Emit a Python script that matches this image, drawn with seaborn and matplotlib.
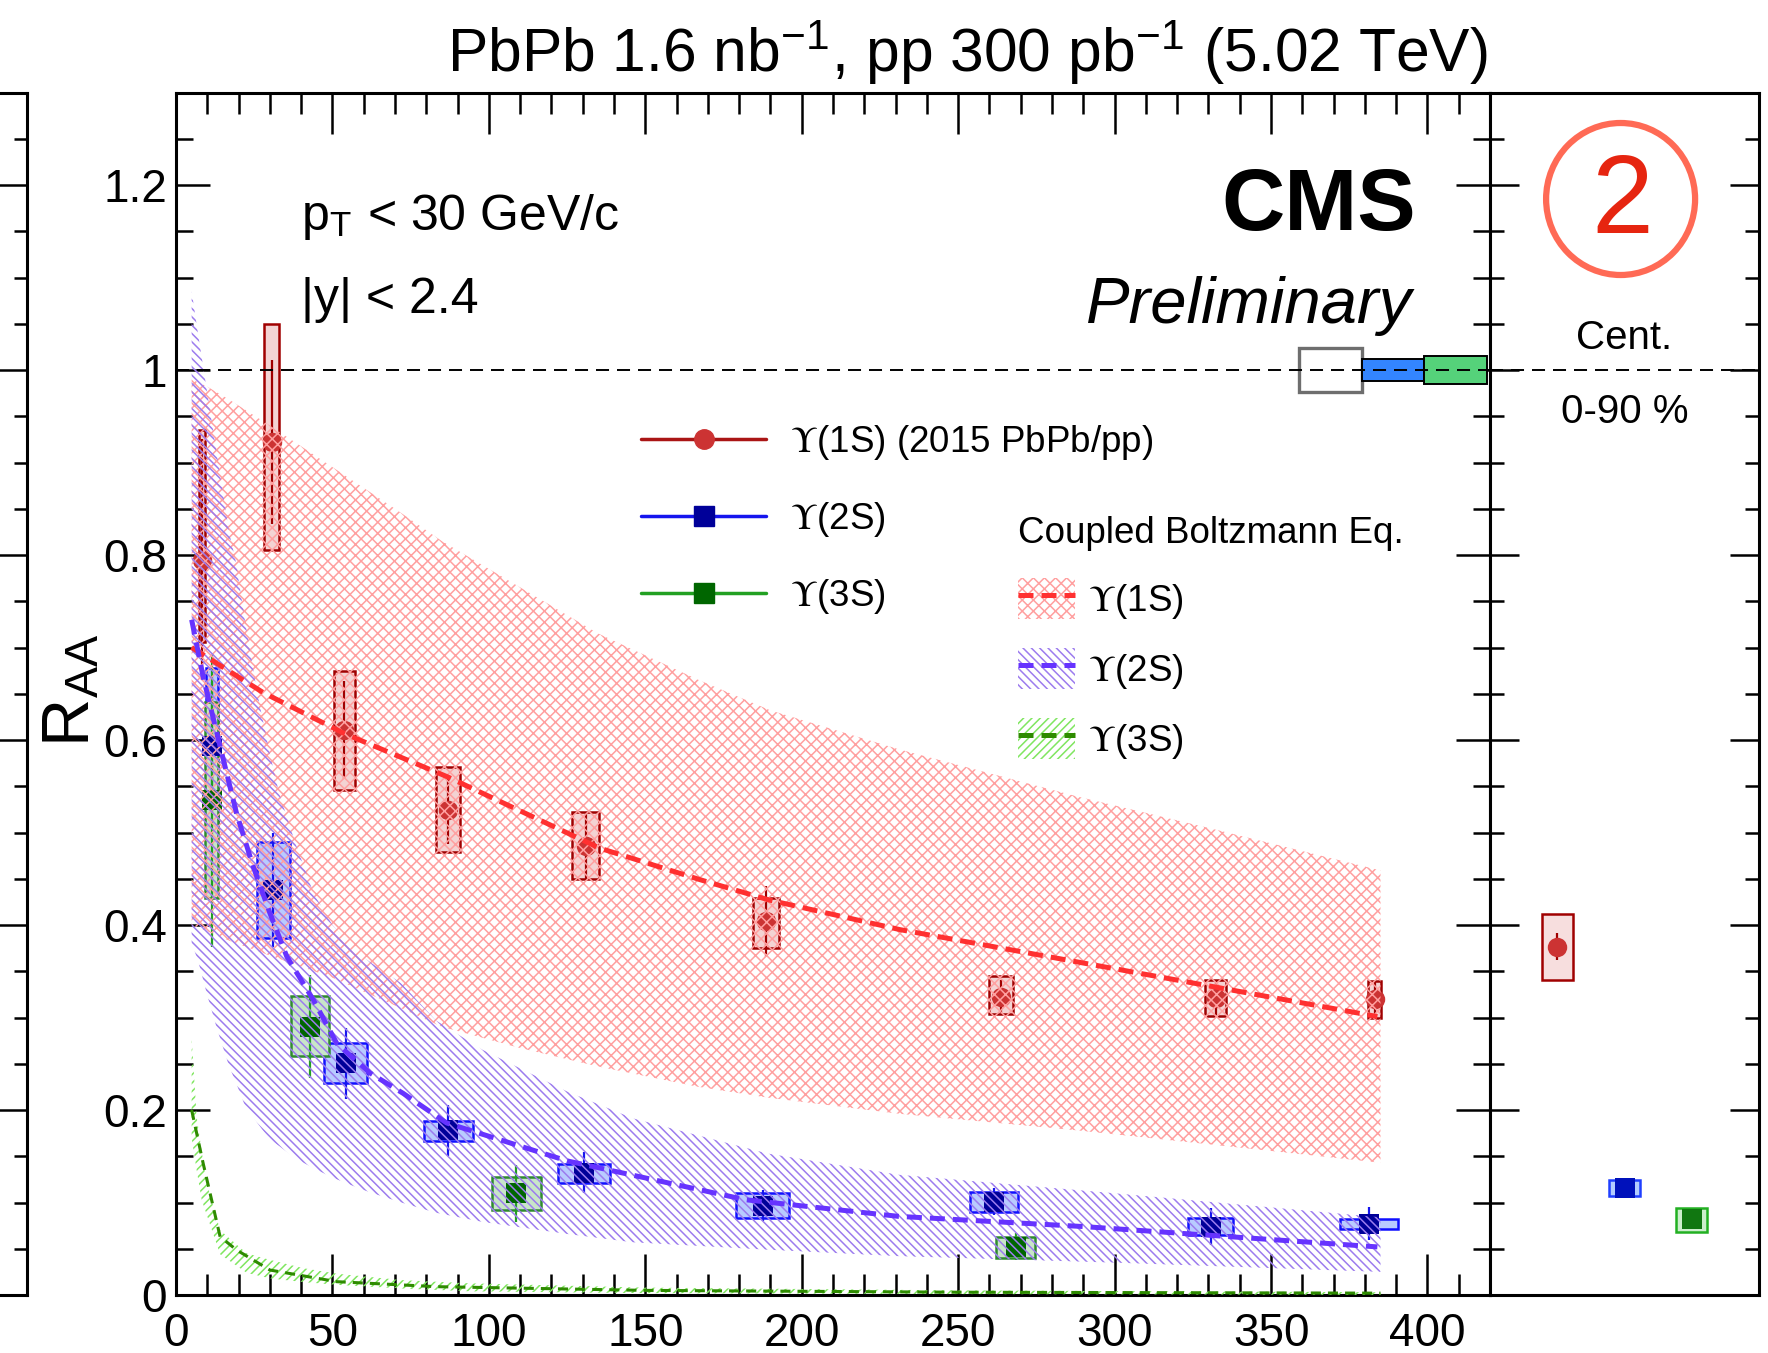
import matplotlib
matplotlib.use("Agg")
import matplotlib.pyplot as plt
import seaborn as sns
import numpy as np
import pandas as pd
from matplotlib.patches import Patch, Ellipse
from matplotlib.lines import Line2D
from matplotlib.ticker import MultipleLocator, FixedLocator, FixedFormatter, NullFormatter

# ---------------- data ----------------
# Upsilon(1S) data points vs Npart
npart_1s = [8.3, 30.6, 53.8, 86.9, 130.9, 188.7, 263.7, 332.3, 383.2]
raa_1s = [0.795, 0.922, 0.611, 0.524, 0.485, 0.404, 0.3225, 0.321, 0.320]
stat_1s = [0.13, 0.089, 0.053, 0.036, 0.035, 0.0385, 0.018, 0.018, 0.018]
syslo_1s = [0.706, 0.805, 0.546, 0.479, 0.4495, 0.375, 0.3035, 0.302, 0.299]
syshi_1s = [0.935, 1.050, 0.675, 0.571, 0.5225, 0.429, 0.345, 0.341, 0.339]
xerr_1s = [1.0, 2.45, 3.3, 3.8, 4.35, 4.15, 3.8, 3.45, 2.05]

# Upsilon(2S)
npart_2s = [11.4, 31.1, 54.3, 87.0, 130.5, 187.5, 261.5, 330.8, 381.3]
raa_2s = [0.593, 0.438, 0.2505, 0.178, 0.1323, 0.0966, 0.101, 0.0739, 0.077]
stat_2s = [0.07, 0.062, 0.0385, 0.0275, 0.0225, 0.017, 0.015, 0.02, 0.018]
syslo_2s = [0.509, 0.386, 0.229, 0.1665, 0.121, 0.083, 0.0894, 0.0649, 0.0714]
syshi_2s = [0.678, 0.490, 0.272, 0.1884, 0.142, 0.110, 0.1117, 0.0829, 0.0822]
xerr_2s = [1.9, 5.3, 6.9, 7.8, 8.25, 8.45, 7.75, 7.2, 9.15]

# Upsilon(3S)
npart_3s = [11.4, 42.8, 108.8, 268.4]
raa_3s = [0.535, 0.290, 0.110, 0.0523]
stat_3s = [0.1585, 0.0555, 0.031, 0.0145]
syslo_3s = [0.429, 0.258, 0.092, 0.0396]
syshi_3s = [0.641, 0.323, 0.128, 0.063]
xerr_3s = [2.1, 5.95, 7.8, 6.15]

# centrality-integrated (0-90 %) panel
int_pos = [1, 2, 3]
int_raa = [0.3766, 0.116, 0.0818]
int_stat = [0.0145, 0.004, 0.006]
int_syslo = [0.341, 0.1073, 0.0681]
int_syshi = [0.412, 0.1243, 0.0944]
int_xerr = [0.23, 0.23, 0.23]

# global uncertainties at RAA = 1
glob_x = [369, 389, 409]
glob_halfw = [10, 10, 10]
glob_unc = [0.024, 0.012, 0.015]

# Coupled Boltzmann equation model: bands and central curves
th1s_x = [5, 10, 17, 30, 50, 70, 85, 110, 135, 167, 190, 231, 288, 330, 385]
th1s_hi = [0.99, 0.982, 0.968, 0.94, 0.895, 0.85, 0.815, 0.765, 0.715, 0.665, 0.632, 0.59, 0.539, 0.505, 0.459]
th1s_lo = [0.40, 0.393, 0.383, 0.367, 0.343, 0.313, 0.29, 0.267, 0.247, 0.225, 0.213, 0.196, 0.178, 0.163, 0.143]
th1s_cx = [5, 28, 53.8, 86.9, 135.5, 167.5, 189.6, 231.4, 384]
th1s_cy = [0.70, 0.651, 0.607, 0.56, 0.483, 0.449, 0.427, 0.395, 0.301]

th2s_x = [5, 7, 10, 13, 17, 19, 22, 26, 30, 33, 38, 44, 50, 58, 62, 72, 83, 98, 125, 146, 189, 231, 300, 385]
th2s_hi = [1.085, 1.04, 0.975, 0.91, 0.824, 0.795, 0.73, 0.65, 0.585, 0.542, 0.49, 0.434, 0.40, 0.37, 0.36,
           0.337, 0.297, 0.265, 0.22, 0.191, 0.153, 0.13, 0.11, 0.084]
th2s_lo = [0.38, 0.362, 0.324, 0.289, 0.247, 0.231, 0.205, 0.186, 0.168, 0.161, 0.148, 0.137, 0.127, 0.116,
           0.111, 0.100, 0.089, 0.079, 0.066, 0.057, 0.049, 0.042, 0.035, 0.025]
th2s_cx = [5, 8.7, 14.1, 19.4, 24.7, 30, 35.4, 43.9, 51.4, 62, 72.6, 86.5, 125, 182, 231, 290, 384]
th2s_cy = [0.73, 0.668, 0.593, 0.52, 0.463, 0.413, 0.366, 0.319, 0.272, 0.24, 0.218, 0.186, 0.145, 0.103,
           0.085, 0.074, 0.052]

th3s_x = [5, 6.6, 8.2, 9.8, 14.1, 22.6, 30, 40.7, 51.4, 72.6, 94, 150, 250, 385]
th3s_hi = [0.2775, 0.193, 0.155, 0.121, 0.07, 0.045, 0.038, 0.029, 0.023, 0.016, 0.0126, 0.008, 0.005, 0.003]
th3s_lo = [0.17, 0.135, 0.103, 0.087, 0.044, 0.024, 0.018, 0.014, 0.011, 0.007, 0.004, 0.002, 0.001, 0.0]
th3s_cx = [5, 8.7, 14.1, 19.4, 30, 51.4, 83.3, 150, 250, 385]
th3s_cy = [0.2, 0.142, 0.063, 0.0486, 0.027, 0.0144, 0.009, 0.005, 0.003, 0.002]

ytick_vals = [0, 0.2, 0.4, 0.6, 0.8, 1.0, 1.2]
ytick_labels = ["0", "0.2", "0.4", "0.6", "0.8", "1", "1.2"]
leg_data_labels = [r"$\Upsilon$(1S) (2015 PbPb/pp)", r"$\Upsilon$(2S)", r"$\Upsilon$(3S)"]
leg_model_labels = [r"$\Upsilon$(1S)", r"$\Upsilon$(2S)", r"$\Upsilon$(3S)"]

# ---------------- style ----------------
sns.set_theme(style="ticks", rc={"axes.edgecolor": "black", "text.color": "black",
                                 "xtick.color": "black", "ytick.color": "black",
                                 "axes.labelcolor": "black"})
plt.rcParams["font.family"] = ["Liberation Sans", "DejaVu Sans"]
plt.rcParams["mathtext.fontset"] = "stix"
plt.rcParams["hatch.linewidth"] = 1.1

C1_MARK, C1_LINE, C1_BOXF, C1_BOXE = "#CC3333", "#AA1515", "#F3D3D3", "#A00000"
C2_MARK, C2_LINE, C2_BOXF, C2_BOXE = "#000099", "#1515EE", "#B8CBFF", "#1010FF"
C3_MARK, C3_LINE, C3_BOXF, C3_BOXE = "#006600", "#22A022", "#C8E6C8", "#2E8B2E"
B1, B2, B3 = "#FFA0A0", "#9C7CEE", "#80E660"
D1, D2, D3 = "#FF3030", "#6633FF", "#2E8B00"
H1, H2, H3 = "xxx", "\\\\\\\\", "////"

fig = plt.figure(figsize=(17.68, 13.53), dpi=100)
ax = fig.add_axes([0.09955, 0.042868, 0.74321, 0.88876])
axr = fig.add_axes([0.84276, 0.042868, 0.15215, 0.88876])
axl = fig.add_axes([-0.1, 0.042868, 0.11555, 0.88876])

for a in (ax, axr, axl):
    a.set_facecolor("white")
    for s in a.spines.values():
        s.set_linewidth(2.2)
        s.set_color("black")
        s.set_visible(True)
    a.set_ylim(0, 1.3)
    a.yaxis.set_major_locator(FixedLocator(ytick_vals))
    a.yaxis.set_minor_locator(MultipleLocator(0.05))

# ---------------- main panel ----------------
ax.set_xlim(0, 420)

def draw_points(a, x, y, stat, lo, hi, xe, mcol, ecol, bface, bedge, marker):
    lo = np.asarray(lo); hi = np.asarray(hi)
    a.bar(x, hi - lo, bottom=lo, width=2 * np.asarray(xe), facecolor=bface,
          edgecolor=bedge, linewidth=1.8, zorder=2, align="center")
    a.errorbar(x, y, yerr=stat, fmt="none", ecolor=ecol, elinewidth=1.6, capsize=0, zorder=3)
    sns.scatterplot(x=x, y=y, ax=a, marker=marker, s=196, color=mcol, linewidth=0,
                    zorder=4, legend=False)

draw_points(ax, npart_1s, raa_1s, stat_1s, syslo_1s, syshi_1s, xerr_1s,
            C1_MARK, C1_BOXE, C1_BOXF, C1_BOXE, "o")
draw_points(ax, npart_2s, raa_2s, stat_2s, syslo_2s, syshi_2s, xerr_2s,
            C2_MARK, C2_LINE, C2_BOXF, C2_BOXE, "s")
draw_points(ax, npart_3s, raa_3s, stat_3s, syslo_3s, syshi_3s, xerr_3s,
            C3_MARK, C3_LINE, C3_BOXF, C3_BOXE, "s")

# model bands (hatched, on top of the data as in the reference)
ax.fill_between(th1s_x, th1s_lo, th1s_hi, facecolor="none", edgecolor=B1, hatch=H1,
                linewidth=0, zorder=5)
ax.fill_between(th2s_x, th2s_lo, th2s_hi, facecolor="none", edgecolor=B2, hatch=H2,
                linewidth=0, zorder=5)
ax.fill_between(th3s_x, th3s_lo, th3s_hi, facecolor="none", edgecolor=B3, hatch=H3,
                linewidth=0, zorder=5)

sns.lineplot(x=th1s_cx, y=th1s_cy, ax=ax, color=D1, linewidth=3.6,
             linestyle=(0, (3.0, 1.6)), zorder=6, legend=False)
sns.lineplot(x=th2s_cx, y=th2s_cy, ax=ax, color=D2, linewidth=3.6,
             linestyle=(0, (3.0, 1.6)), zorder=6, legend=False)
sns.lineplot(x=th3s_cx, y=th3s_cy, ax=ax, color=D3, linewidth=2.2,
             linestyle=(0, (3.3, 2.3)), zorder=6, legend=False)

# global uncertainty boxes at unity
gl = np.asarray(glob_unc)
ax.bar(glob_x, 2 * gl, bottom=1 - gl, width=2 * np.asarray(glob_halfw),
       facecolor=["white", "#3385FF", "#55D27A"], edgecolor=["#6E6E6E", "black", "black"],
       linewidth=[2.4, 1.4, 1.4], zorder=7, align="center")
ax.axhline(1.0, color="black", linewidth=1.4, linestyle=(0, (6.7, 4.1)), zorder=8)

ax.xaxis.set_major_locator(MultipleLocator(50))
ax.xaxis.set_minor_locator(MultipleLocator(10))
ax.yaxis.set_major_formatter(FixedFormatter(ytick_labels))
ax.tick_params(axis="both", which="both", direction="in", top=True, right=True,
               bottom=True, left=True, width=1.8, colors="black")
ax.tick_params(axis="x", which="major", length=29.5, labelsize=33, pad=12)
ax.tick_params(axis="x", which="minor", length=15)
ax.tick_params(axis="y", which="major", length=24.5, labelsize=33, pad=6.5)
ax.tick_params(axis="y", which="minor", length=12)
ax.set_xlabel("")
ax.set_ylabel("")

# texts
ax.text(40, 1.151, r"p$_{\mathregular{T}}$ < 30 GeV/c", fontsize=36, ha="left", va="baseline")
ax.text(40, 1.062, "|y| < 2.4", fontsize=36, ha="left", va="baseline")
ax.text(396.3, 1.151, "CMS", fontsize=63, fontweight="bold", ha="right", va="baseline")
ax.text(395, 1.051, "Preliminary", fontsize=47, fontstyle="italic", ha="right", va="baseline")

# legends
h_data = [Line2D([0], [0], color=C1_LINE, lw=2.5, marker="o", ms=14, mfc=C1_MARK, mec=C1_MARK),
          Line2D([0], [0], color=C2_LINE, lw=2.5, marker="s", ms=14, mfc=C2_MARK, mec=C2_MARK),
          Line2D([0], [0], color=C3_LINE, lw=2.5, marker="s", ms=14, mfc=C3_MARK, mec=C3_MARK)]
leg1 = ax.legend(h_data, leg_data_labels, loc="upper left", bbox_to_anchor=(0.3626, 0.6877),
                 bbox_transform=fig.transFigure, frameon=False, fontsize=26.5, numpoints=1,
                 handlelength=3.4, handletextpad=0.65, labelspacing=1.04, borderpad=0,
                 borderaxespad=0)
ax.add_artist(leg1)

h_model = [(Patch(facecolor="none", edgecolor=B1, hatch=H1, linewidth=0),
            Line2D([0], [0], color=D1, lw=3.6, linestyle=(0, (3.0, 1.6)))),
           (Patch(facecolor="none", edgecolor=B2, hatch=H2, linewidth=0),
            Line2D([0], [0], color=D2, lw=3.6, linestyle=(0, (3.0, 1.6)))),
           (Patch(facecolor="none", edgecolor=B3, hatch=H3, linewidth=0),
            Line2D([0], [0], color=D3, lw=3.6, linestyle=(0, (3.0, 1.6))))]
leg2 = ax.legend(h_model, leg_model_labels, title="Coupled Boltzmann Eq.", loc="upper left",
                 bbox_to_anchor=(0.5758, 0.6186), bbox_transform=fig.transFigure,
                 frameon=False, fontsize=26.5, title_fontsize=26.5, alignment="left",
                 handlelength=1.55, handleheight=1.33, handletextpad=0.36, labelspacing=0.74,
                 borderpad=0, borderaxespad=0)

# ---------------- right (integrated) panel ----------------
axr.set_xlim(0, 4)
draw_points(axr, int_pos[:1], int_raa[:1], int_stat[:1], int_syslo[:1], int_syshi[:1], int_xerr[:1],
            C1_MARK, C1_BOXE, "#F7DEDE", "#A00000", "o")
draw_points(axr, int_pos[1:2], int_raa[1:2], int_stat[1:2], int_syslo[1:2], int_syshi[1:2],
            int_xerr[1:2], "#0011BB", "#0011BB", "#B3CCFF", "#1F3FFF", "s")
draw_points(axr, int_pos[2:], int_raa[2:], int_stat[2:], int_syslo[2:], int_syshi[2:], int_xerr[2:],
            "#117711", "#117711", "#CDEFCD", "#22B022", "s")
axr.axhline(1.0, color="black", linewidth=1.4, linestyle=(0, (6.7, 4.1)), zorder=8)
axr.yaxis.set_major_formatter(NullFormatter())
axr.tick_params(axis="y", which="both", direction="in", left=True, right=True,
                labelleft=False, labelright=False, width=1.8, colors="black")
axr.tick_params(axis="y", which="major", length=21)
axr.tick_params(axis="y", which="minor", length=10)
axr.tick_params(axis="x", which="both", bottom=False, top=False, labelbottom=False)
axr.set_xlabel("")
axr.set_ylabel("")

# ---------------- left (cropped) panel ----------------
axl.set_xlim(0, 1)
axl.yaxis.set_major_formatter(NullFormatter())
axl.tick_params(axis="y", which="both", direction="in", left=False, right=True,
                labelleft=False, width=1.8, colors="black")
axl.tick_params(axis="y", which="major", length=25)
axl.tick_params(axis="y", which="minor", length=9.4)
axl.tick_params(axis="x", which="both", bottom=False, top=False, labelbottom=False)

# ---------------- figure texts ----------------
fig.text(0.8416, 0.9475, r"PbPb 1.6 nb$^{\mathregular{-1}}$, pp 300 pb$^{\mathregular{-1}}$ (5.02 TeV)",
         fontsize=43.6, ha="right", va="baseline")
fig.text(0.0407, 0.49, r"R$_{\mathregular{AA}}$", fontsize=48, rotation=90, ha="center", va="center")
fig.text(0.9188, 1 - 349 / 1353, "Cent.", fontsize=29, ha="center", va="baseline")
fig.text(0.9188, 1 - 423 / 1353, "0-90 %", fontsize=29, ha="center", va="baseline")

fig.add_artist(Ellipse((1620.6 / 1768, 1 - 199 / 1353), width=149 / 1768, height=152 / 1353,
                       transform=fig.transFigure, fill=False, edgecolor="#FF6A55", linewidth=4.5))
fig.text(1622 / 1768, 1 - 204 / 1353, "2", color="#E62510", fontsize=80, ha="center", va="center")

fig.savefig("out.png", dpi=100)
